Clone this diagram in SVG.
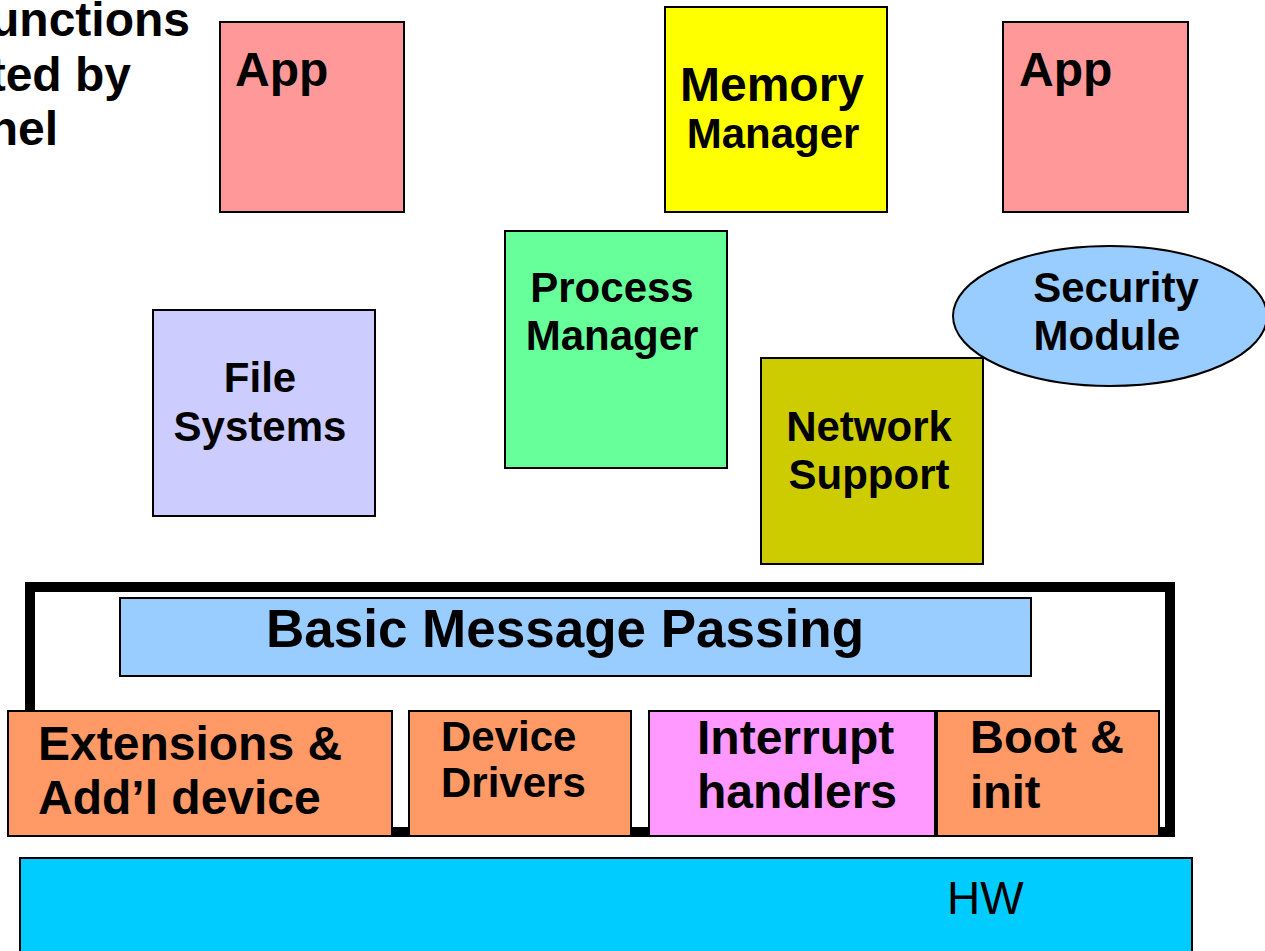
<svg xmlns="http://www.w3.org/2000/svg" width="1265" height="951" viewBox="0 0 1265 951">
<style>
.b{stroke:#000;stroke-width:2}
text{font-family:"Liberation Sans",Arial,sans-serif;font-weight:bold;fill:#000}
.s42{font-size:42px}
.s48{font-size:48px}
.c{text-anchor:middle}
.e{text-anchor:end}
</style>
<rect width="1265" height="951" fill="#fff"/>
<g id="title">
<text class="s48 e" x="190" y="36">unctions</text>
<text class="s48 e" x="131" y="91">ted by</text>
<text class="s48 e" x="58" y="145">nel</text>
</g>
<g id="connectors"></g>
<g id="kernel-frame"><rect x="30" y="587" width="1140" height="245" fill="none" stroke="#000" stroke-width="10"/></g>
<g id="app1"><rect class="b" x="220" y="22" width="184" height="190" fill="#FF9999"/><text class="s48" x="235" y="86">App</text></g>
<g id="memory"><rect class="b" x="665" y="7" width="222" height="205" fill="#FFFF00"/><text class="s48 c" x="772" y="101">Memory</text><text class="s42 c" x="773" y="148">Manager</text></g>
<g id="app2"><rect class="b" x="1003" y="22" width="185" height="190" fill="#FF9999"/><text class="s48" x="1019" y="86">App</text></g>
<g id="process"><rect class="b" x="505" y="231" width="222" height="237" fill="#66FF99"/><text class="s42 c" x="612" y="302">Process</text><text class="s42 c" x="612" y="350">Manager</text></g>
<g id="files"><rect class="b" x="153" y="310" width="222" height="206" fill="#CCCCFF"/><text class="s42 c" x="260" y="392">File</text><text class="s42 c" x="260" y="441">Systems</text></g>
<g id="network"><rect class="b" x="761" y="358" width="222" height="206" fill="#CCCC00"/><text class="s42 c" x="869" y="441">Network</text><text class="s42 c" x="869" y="489">Support</text></g>
<g id="security"><ellipse class="b" cx="1110" cy="316" rx="157" ry="70" fill="#99CCFF"/><text class="s42 c" x="1116" y="302">Security</text><text class="s42 c" x="1107" y="350">Module</text></g>
<g id="bmp"><rect class="b" x="120" y="598" width="911" height="78" fill="#99CCFF"/><text class="c" style="font-size:53px" x="565" y="647">Basic Message Passing</text></g>
<g id="ext"><rect class="b" x="8" y="711" width="384" height="125" fill="#FF9966"/><text class="s48" x="38" y="760">Extensions &amp;</text><text class="s48" x="38" y="814">Add’l device</text></g>
<g id="drivers"><rect class="b" x="409" y="711" width="222" height="125" fill="#FF9966"/><text class="s42" x="441" y="751">Device</text><text class="s42" x="441" y="797">Drivers</text></g>
<g id="interrupt"><rect class="b" x="649" y="711" width="286" height="125" fill="#FF99FF"/><text class="s48" x="697" y="754">Interrupt</text><text class="s48" x="697" y="808">handlers</text></g>
<g id="boot"><rect class="b" x="937" y="711" width="222" height="125" fill="#FF9966"/><text style="font-size:47px" x="970" y="753">Boot &amp;</text><text style="font-size:47px" x="970" y="808">init</text></g>
<g id="hw"><rect class="b" x="20" y="858" width="1172" height="100" fill="#00CCFF"/><text style="font-size:46px;font-weight:normal" x="947" y="914">HW</text></g>
</svg>
